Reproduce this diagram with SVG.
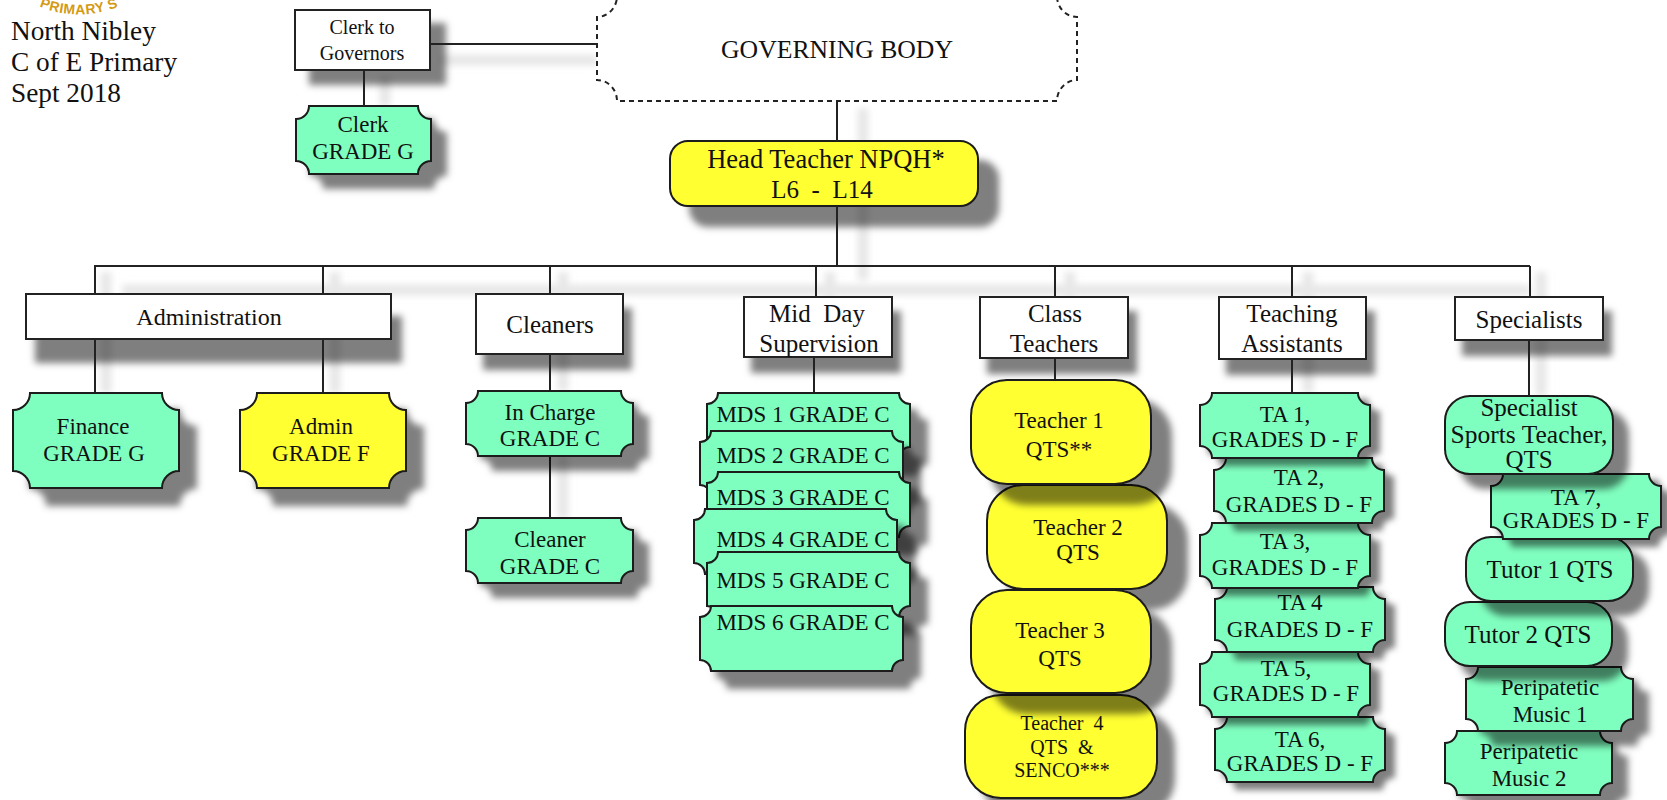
<svg xmlns="http://www.w3.org/2000/svg" width="1667" height="800" viewBox="0 0 1667 800">
<style>
text{font-family:"Liberation Serif","Times New Roman",serif;fill:#111;text-anchor:middle;white-space:pre}
.t23{font-size:23px}.t25{font-size:25px}.t20{font-size:20px}.t26{font-size:27.300px;text-anchor:start}
.logo{font-family:"Liberation Sans",Arial,sans-serif;font-weight:bold;font-size:14px;fill:#d49a14;letter-spacing:.5px}
.w{fill:#fff;stroke:#222;stroke-width:2}
.g{fill:#7fffbf;stroke:#1a1a1a;stroke-width:2}
.y{fill:#ffff33;stroke:#1a1a1a;stroke-width:2}
.dash{fill:#fff;stroke:#222;stroke-width:2;stroke-dasharray:5 4}
.c{fill:none;stroke:#222;stroke-width:2}
.cs{fill:none;stroke:#e8e8e8;stroke-width:11;filter:url(#bl)}
</style>
<defs>
<filter id="bl" x="0" y="-10" width="1667" height="810" filterUnits="userSpaceOnUse"><feGaussianBlur stdDeviation="3"/></filter>
<filter id="sa" x="-20%" y="-20%" width="150%" height="170%"><feDropShadow dx="17" dy="17" stdDeviation="3.500" flood-color="#000" flood-opacity=".5"/></filter>
<filter id="sb" x="-20%" y="-20%" width="150%" height="170%"><feDropShadow dx="8" dy="15" stdDeviation="3.500" flood-color="#000" flood-opacity=".5"/></filter>
<filter id="sc" x="-20%" y="-20%" width="150%" height="170%"><feDropShadow dx="9" dy="7" stdDeviation="3" flood-color="#000" flood-opacity=".5"/></filter>
<filter id="sd" x="-20%" y="-20%" width="150%" height="170%"><feDropShadow dx="20" dy="20" stdDeviation="3.500" flood-color="#000" flood-opacity=".5"/></filter>
<filter id="se" x="-20%" y="-20%" width="150%" height="170%"><feDropShadow dx="15" dy="14" stdDeviation="3.500" flood-color="#000" flood-opacity=".5"/></filter>
<filter id="sf" x="-20%" y="-20%" width="150%" height="200%"><feDropShadow dx="10" dy="23" stdDeviation="3.500" flood-color="#000" flood-opacity=".5"/></filter>
<path id="ta" d="M12 0h146a12 12 0 0 0 12 12v41a12 12 0 0 0-12 12h-146a12 12 0 0 0-12-12v-41a12 12 0 0 0 12-12z"/>
<path id="ch" d="M12 0h143a12 12 0 0 0 12 12v41a12 12 0 0 0-12 12h-143a12 12 0 0 0-12-12v-41a12 12 0 0 0 12-12z"/>
<path id="sp" d="M12 0h143a12 12 0 0 0 12 12v40a12 12 0 0 0-12 12h-143a12 12 0 0 0-12-12v-40a12 12 0 0 0 12-12z"/>
<path id="big" d="M17 0h132a17 17 0 0 0 17 17v61a17 17 0 0 0-17 17h-132a17 17 0 0 0-17-17v-61a17 17 0 0 0 17-17z"/>
<path id="mds" d="M11 0h181a11 11 0 0 0 11 11v43a11 11 0 0 0-11 11h-181a11 11 0 0 0-11-11v-43a11 11 0 0 0 11-11z"/>
<path id="arc" d="M20 -4A104 104 0 0 0 138 -4"/>
</defs>
<rect width="1667" height="800" fill="#fff"/>

<g id="connector-shadows">
<path class="cs" d="M440 60H597M385 76V106M863 108V280M122 290H1530"/>
<path class="cs" d="M106 272V393M335 272V393M563 272V391M563 456V518M830 272V297M1070 272V297M1308 272V393M1541 272V396"/>
</g>

<g id="title">
<text class="logo"><textPath href="#arc" startOffset="50%">PRIMARY S</textPath></text>
<text class="t26" x="11" y="40">North Nibley</text>
<text class="t26" x="11" y="71">C of E Primary</text>
<text class="t26" x="11" y="102">Sept 2018</text>
</g>

<g id="upper-boxes">
<g id="clerk-to-governors"><rect class="w" x="295" y="10" width="135" height="60" filter="url(#se)"/><text class="t20" x="362" y="34">Clerk to</text><text class="t20" x="362" y="60">Governors</text></g>
<g id="clerk"><path class="g" transform="translate(296 106)" d="M13 0h109a13 13 0 0 0 13 13v42a13 13 0 0 0-13 13h-109a13 13 0 0 0-13-13v-42a13 13 0 0 0 13-13z" filter="url(#se)"/><text class="t23" x="363" y="132">Clerk</text><text class="t23" x="363" y="159">GRADE G</text></g>
<g id="head-teacher"><rect class="y" x="670" y="141" width="308" height="65" rx="18" filter="url(#sd)"/><text style="font-size:26.500px" x="826" y="168">Head Teacher NPQH*</text><text class="t25" x="822" y="198">L6  -  L14</text></g>
<g id="administration"><rect class="w" x="26" y="294" width="365" height="45" filter="url(#sf)"/><text style="font-size:24px" x="209" y="325">Administration</text></g>
<g id="cleaners"><rect class="w" x="476" y="294" width="147" height="60" filter="url(#sb)"/><text class="t25" x="550" y="333">Cleaners</text></g>
<g id="mid-day"><rect class="w" x="744" y="297" width="148" height="60" filter="url(#sb)"/><text class="t25" x="817" y="322">Mid  Day</text><text class="t25" x="819" y="352">Supervision</text></g>
<g id="class-teachers"><rect class="w" x="980" y="297" width="148" height="61" filter="url(#sb)"/><text class="t25" x="1055" y="322">Class</text><text class="t25" x="1054" y="352">Teachers</text></g>
<g id="teaching-assistants"><rect class="w" x="1219" y="297" width="147" height="62" filter="url(#sb)"/><text class="t25" x="1292" y="322">Teaching</text><text class="t25" x="1292" y="352">Assistants</text></g>
<g id="specialists"><rect class="w" x="1455" y="297" width="148" height="43" filter="url(#sb)"/><text class="t25" x="1529" y="328">Specialists</text></g>
</g>

<g id="connectors">
<path class="c" d="M430 44H597M364 70V106M837 101V141M837 206V266M94 266H1530"/>
<path class="c" d="M95 266V294M323 266V294M550 266V294M816 266V297M1055 266V297M1292 266V297M1530 266V297"/>
<path class="c" d="M95 339V393M323 339V393M550 354V391M550 456V518M814 357V393M1055 358V380M1292 359V393M1529 340V396"/>
</g>

<g id="governing-body"><path class="dash" d="M617 -4H1057A20 21 0 0 0 1077 17V80A20 21 0 0 0 1057 101H617A20 21 0 0 0 597 80V17A20 21 0 0 0 617 -4Z"/><text style="font-size:25.700px" x="837" y="58">GOVERNING BODY</text></g>

<g id="finance"><use href="#big" x="13" y="393" class="g" filter="url(#sa)"/><text class="t23" x="93" y="434">Finance</text><text class="t23" x="94" y="461">GRADE G</text></g>
<g id="admin"><use href="#big" x="240" y="393" class="y" filter="url(#sa)"/><text class="t23" x="321" y="434">Admin</text><text class="t23" x="321" y="461">GRADE F</text></g>
<g id="in-charge"><use href="#ch" x="466" y="391" class="g" filter="url(#se)"/><text class="t23" x="550" y="420">In Charge</text><text class="t23" x="550" y="446">GRADE C</text></g>
<g id="cleaner"><use href="#ch" x="466" y="518" class="g" filter="url(#se)"/><text class="t23" x="550" y="547">Cleaner</text><text class="t23" x="550" y="574">GRADE C</text></g>

<g id="mds1"><use href="#mds" x="707" y="393" class="g" filter="url(#sa)"/><text class="t23" x="803" y="422">MDS 1 GRADE C</text></g>
<g id="mds2"><use href="#mds" x="700" y="431" class="g" filter="url(#sa)"/><text class="t23" x="803" y="463">MDS 2 GRADE C</text></g>
<g id="mds3"><use href="#mds" x="707" y="472" class="g" filter="url(#sa)"/><text class="t23" x="803" y="505">MDS 3 GRADE C</text></g>
<g id="mds4"><use href="#mds" x="694" y="509" class="g" filter="url(#sa)"/><text class="t23" x="803" y="547">MDS 4 GRADE C</text></g>
<g id="mds5"><use href="#mds" x="707" y="552" class="g" filter="url(#sa)"/><text class="t23" x="803" y="588">MDS 5 GRADE C</text></g>
<g id="mds6"><use href="#mds" x="700" y="606" class="g" filter="url(#sa)"/><text class="t23" x="803" y="630">MDS 6 GRADE C</text></g>

<g id="teacher4"><rect class="y" x="965" y="695" width="192" height="103" rx="36" filter="url(#sa)"/><text class="t20" x="1062" y="730">Teacher  4</text><text class="t20" x="1062" y="754">QTS  &amp;</text><text class="t20" x="1062" y="777">SENCO***</text></g>
<g id="teacher2"><rect class="y" x="987" y="485" width="180" height="104" rx="36" filter="url(#sd)"/><text class="t23" x="1078" y="535">Teacher 2</text><text class="t23" x="1078" y="560">QTS</text></g>
<g id="teacher3"><rect class="y" x="971" y="590" width="180" height="103" rx="36" filter="url(#sd)"/><text class="t23" x="1060" y="638">Teacher 3</text><text class="t23" x="1060" y="666">QTS</text></g>
<g id="teacher1"><rect class="y" x="971" y="380" width="180" height="104" rx="36" filter="url(#sd)"/><text class="t23" x="1059" y="428">Teacher 1</text><text class="t23" x="1059" y="457">QTS**</text></g>

<g id="ta6"><use href="#ta" x="1215" y="717" class="g" filter="url(#sc)"/><text class="t23" x="1300" y="747">TA 6,</text><text class="t23" x="1300" y="771">GRADES D - F</text></g>
<g id="ta5"><use href="#ta" x="1200" y="652" class="g" filter="url(#sc)"/><text class="t23" x="1286" y="676">TA 5,</text><text class="t23" x="1286" y="701">GRADES D - F</text></g>
<g id="ta4"><use href="#ta" x="1215" y="587" class="g" filter="url(#sc)"/><text class="t23" x="1300" y="610">TA 4</text><text class="t23" x="1300" y="637">GRADES D - F</text></g>
<g id="ta3"><use href="#ta" x="1200" y="523" class="g" filter="url(#sc)"/><text class="t23" x="1285" y="549">TA 3,</text><text class="t23" x="1285" y="575">GRADES D - F</text></g>
<g id="ta2"><use href="#ta" x="1214" y="458" class="g" filter="url(#sc)"/><text class="t23" x="1299" y="485">TA 2,</text><text class="t23" x="1299" y="512">GRADES D - F</text></g>
<g id="ta1"><use href="#ta" x="1200" y="393" class="g" filter="url(#sc)"/><text class="t23" x="1285" y="422">TA 1,</text><text class="t23" x="1285" y="447">GRADES D - F</text></g>

<g id="peripatetic2"><use href="#sp" x="1445" y="731" class="g" filter="url(#se)"/><text class="t23" x="1529" y="759">Peripatetic</text><text class="t23" x="1529" y="786">Music 2</text></g>
<g id="peripatetic1"><use href="#sp" x="1466" y="667" class="g" filter="url(#se)"/><text class="t23" x="1550" y="695">Peripatetic</text><text class="t23" x="1550" y="722">Music 1</text></g>
<g id="tutor2"><rect class="g" x="1445" y="602" width="167" height="64" rx="25" filter="url(#se)"/><text class="t25" x="1528" y="643">Tutor 2 QTS</text></g>
<g id="tutor1"><rect class="g" x="1466" y="537" width="167" height="64" rx="25" filter="url(#se)"/><text class="t25" x="1550" y="578">Tutor 1 QTS</text></g>
<g id="ta7"><use href="#ta" x="1491" y="474" class="g" filter="url(#sc)"/><text class="t23" x="1576" y="505">TA 7,</text><text class="t23" x="1576" y="528">GRADES D - F</text></g>
<g id="specialist-sports"><rect class="g" x="1445" y="396" width="168" height="78" rx="25" filter="url(#se)"/><text class="t25" x="1529" y="416">Specialist</text><text style="font-size:25.500px" x="1529" y="443">Sports Teacher,</text><text class="t25" x="1529" y="468">QTS</text></g>
</svg>
